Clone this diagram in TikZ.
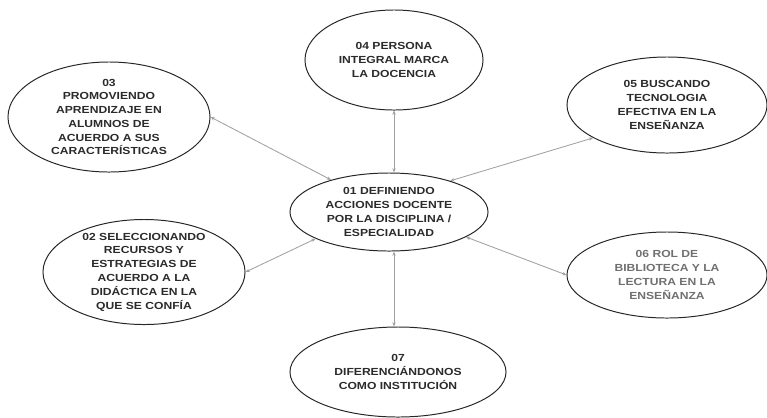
\documentclass[tikz,border=0pt]{standalone}
\usepackage{fontspec}
\setmainfont{Liberation Sans}[FakeStretch=1.18]
\usetikzlibrary{shapes.geometric,arrows.meta}
\definecolor{linegray}{HTML}{A0A0A0}
\definecolor{darktext}{HTML}{2B2B2B}
\definecolor{paletext}{HTML}{707070}
\begin{document}
\begin{tikzpicture}[x=0.025cm,y=-0.025cm,
        idea/.style={ellipse,draw=black!85,line width=0.7pt,inner sep=0pt,align=center,
            text=darktext,font=\fontsize{7.3}{9.8}\selectfont\bfseries},
        link/.style={draw=linegray,line width=0.6pt,
            {Stealth[length=3pt,width=2.4pt]}-{Stealth[length=3pt,width=2.4pt]}}]
    \useasboundingbox (0,0) rectangle (767,417);
    \node[idea,minimum width=4.95cm,minimum height=1.95cm] (n01) at (389,212)
        {01 DEFINIENDO\\ACCIONES DOCENTE\\POR LA DISCIPLINA /\\ESPECIALIDAD};
    \node[idea,minimum width=4.45cm,minimum height=2.5cm] (n04) at (394,60)
        {04 PERSONA\\INTEGRAL MARCA\\LA DOCENCIA};
    \node[idea,minimum width=5.05cm,minimum height=2.75cm,inner ysep=-4pt] (n03) at (109,117)
        {03\\PROMOVIENDO\\APRENDIZAJE EN\\ALUMNOS DE\\ACUERDO A SUS\\CARACTERÍSTICAS};
    \node[idea,minimum width=5cm,minimum height=2.4cm] (n05) at (667,105)
        {05 BUSCANDO\\TECNOLOGIA\\EFECTIVA EN LA\\ENSEÑANZA};
    \node[idea,minimum width=5.05cm,minimum height=2.625cm,inner ysep=-4pt] (n02) at (144,272)
        {02 SELECCIONANDO\\RECURSOS Y\\ESTRATEGIAS DE\\ACUERDO A LA\\DIDÁCTICA EN LA\\QUE SE CONFÍA};
    \node[idea,minimum width=5cm,minimum height=2.15cm,text=paletext] (n06) at (667,275)
        {06 ROL DE\\BIBLIOTECA Y LA\\LECTURA EN LA\\ENSEÑANZA};
    \node[idea,minimum width=5.4cm,minimum height=2.25cm] (n07) at (398,372)
        {07\\DIFERENCIÁNDONOS\\COMO INSTITUCIÓN};
    \draw[link] (n04.south) -- (n01.north -| n04.south);
    \draw[link] (n03.east) -- (n01.151);
    \draw[link] (n05.204) -- (n01.27);
    \draw[link] (n02.east) -- (n01.200);
    \draw[link] (n06.west) -- (n01.342);
    \draw[link] (n01.south -| n04.south) -- (n07.north -| n04.south);
\end{tikzpicture}
\end{document}
